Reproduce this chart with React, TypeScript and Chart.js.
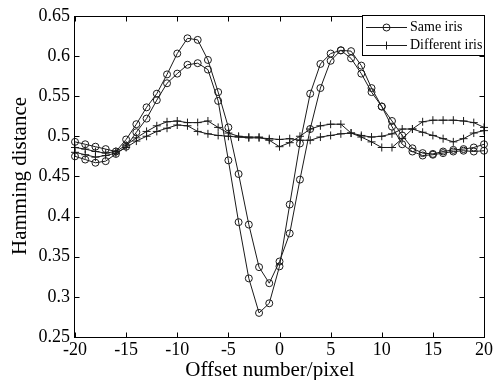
import React, { useEffect, useRef } from "react";
import { Chart, registerables } from "chart.js";

Chart.register(...registerables);

const offsets = [-20, -19, -18, -17, -16, -15, -14, -13, -12, -11, -10, -9, -8, -7, -6, -5, -4, -3, -2, -1, 0, 1, 2, 3, 4, 5, 6, 7, 8, 9, 10, 11, 12, 13, 14, 15, 16, 17, 18, 19, 20];

const sameIrisA = [0.493, 0.490, 0.487, 0.484, 0.481, 0.496, 0.515, 0.536, 0.553, 0.577, 0.603, 0.622, 0.620, 0.595, 0.555, 0.511, 0.453, 0.390, 0.337, 0.317, 0.344, 0.379, 0.446, 0.509, 0.560, 0.594, 0.607, 0.597, 0.578, 0.555, 0.537, 0.512, 0.490, 0.481, 0.476, 0.477, 0.479, 0.481, 0.482, 0.481, 0.482];
const sameIrisB = [0.475, 0.471, 0.467, 0.469, 0.478, 0.487, 0.505, 0.522, 0.545, 0.566, 0.578, 0.589, 0.591, 0.583, 0.544, 0.470, 0.393, 0.323, 0.280, 0.292, 0.338, 0.415, 0.491, 0.553, 0.590, 0.603, 0.607, 0.606, 0.588, 0.560, 0.537, 0.519, 0.501, 0.485, 0.479, 0.478, 0.481, 0.483, 0.484, 0.486, 0.490];
const diffIrisA = [0.486, 0.484, 0.481, 0.479, 0.481, 0.489, 0.498, 0.506, 0.513, 0.518, 0.519, 0.517, 0.517, 0.519, 0.511, 0.504, 0.500, 0.499, 0.499, 0.495, 0.487, 0.492, 0.500, 0.509, 0.513, 0.515, 0.515, 0.504, 0.499, 0.493, 0.486, 0.486, 0.497, 0.509, 0.518, 0.520, 0.520, 0.520, 0.519, 0.517, 0.511];
const diffIrisB = [0.480, 0.477, 0.474, 0.476, 0.479, 0.486, 0.494, 0.500, 0.506, 0.510, 0.514, 0.513, 0.506, 0.503, 0.501, 0.500, 0.499, 0.498, 0.498, 0.497, 0.496, 0.497, 0.495, 0.495, 0.499, 0.501, 0.503, 0.504, 0.501, 0.499, 0.500, 0.503, 0.509, 0.509, 0.505, 0.501, 0.497, 0.493, 0.497, 0.504, 0.507];

const xTicks = [-20, -15, -10, -5, 0, 5, 10, 15, 20];
const yTicks = [0.25, 0.3, 0.35, 0.4, 0.45, 0.5, 0.55, 0.6, 0.65];
const legendLabels = ["Same iris", "Different iris"];
const xTitle = "Offset number/pixel";
const yTitle = "Hamming distance";

const SERIF = "'Liberation Serif', 'Times New Roman', serif";
const LINE = "#1a1a1a";

const toPoints = (vals: number[]) => offsets.map((x, i) => ({ x, y: vals[i] }));

const framePlugin = {
  id: "matlabFrame",
  afterDatasetsDraw(chart: any) {
    const { ctx, chartArea, scales } = chart;
    const xs = scales.x;
    const ys = scales.y;
    const L = Math.round(chartArea.left) - 0.5;
    const R = Math.round(chartArea.right) + 0.5;
    const T = Math.round(chartArea.top) + 0.5;
    const B = Math.round(chartArea.bottom) + 0.5;
    ctx.save();
    ctx.strokeStyle = "#000";
    ctx.lineWidth = 1;
    ctx.strokeRect(L, T, R - L, B - T);
    const tl = 5;
    ctx.beginPath();
    xTicks.forEach((v) => {
      const px = Math.round(xs.getPixelForValue(v)) + 0.5;
      ctx.moveTo(px, B);
      ctx.lineTo(px, B - tl);
      ctx.moveTo(px, T);
      ctx.lineTo(px, T + tl);
    });
    yTicks.forEach((v) => {
      const py = Math.round(ys.getPixelForValue(v)) + 0.5;
      ctx.moveTo(L, py);
      ctx.lineTo(L + tl, py);
      ctx.moveTo(R, py);
      ctx.lineTo(R - tl, py);
    });
    ctx.stroke();

    // legend
    const bx = 362.5, by = 15.5, bw = R - 362.5, bh = 40;
    ctx.fillStyle = "#fff";
    ctx.fillRect(bx, by, bw, bh);
    ctx.strokeRect(bx, by, bw, bh);
    const rows = [27.5, 45.5];
    ctx.strokeStyle = LINE;
    rows.forEach((ry, i) => {
      ctx.beginPath();
      ctx.moveTo(366, ry);
      ctx.lineTo(407, ry);
      ctx.stroke();
      ctx.beginPath();
      if (i === 0) {
        ctx.arc(386.5, ry, 3.5, 0, Math.PI * 2);
      } else {
        ctx.moveTo(386.5, ry - 4);
        ctx.lineTo(386.5, ry + 4);
        ctx.moveTo(382.5, ry);
        ctx.lineTo(390.5, ry);
      }
      ctx.stroke();
      ctx.fillStyle = "#000";
      ctx.font = `14px ${SERIF}`;
      ctx.textBaseline = "middle";
      ctx.textAlign = "left";
      ctx.fillText(legendLabels[i], 410, ry);
    });

    // titles
    ctx.fillStyle = "#000";
    ctx.font = `21px ${SERIF}`;
    ctx.textAlign = "center";
    ctx.textBaseline = "middle";
    ctx.fillText(xTitle, 270, 370);
    ctx.translate(20, 176);
    ctx.rotate(-Math.PI / 2);
    ctx.fillText(yTitle, 0, 0);
    ctx.restore();
  },
};

export default function App() {
  const ref = useRef<HTMLCanvasElement | null>(null);
  useEffect(() => {
    if (!ref.current) return;
    const common = {
      borderColor: LINE,
      borderWidth: 1,
      pointBorderColor: LINE,
      pointBackgroundColor: "rgba(0,0,0,0)",
      pointBorderWidth: 1,
      tension: 0,
      fill: false,
      clip: false as any,
    };
    const chart = new Chart(ref.current, {
      type: "line",
      data: {
        datasets: [
          { ...common, label: legendLabels[0], data: toPoints(sameIrisA), pointStyle: "circle", pointRadius: 3.5 },
          { ...common, label: legendLabels[0] + " 2", data: toPoints(sameIrisB), pointStyle: "circle", pointRadius: 3.5 },
          { ...common, label: legendLabels[1], data: toPoints(diffIrisA), pointStyle: "cross", pointRadius: 4 },
          { ...common, label: legendLabels[1] + " 2", data: toPoints(diffIrisB), pointStyle: "cross", pointRadius: 4 },
        ],
      },
      options: {
        animation: false,
        responsive: false,
        devicePixelRatio: 1,
        layout: { padding: { left: 0, top: 15, right: 8, bottom: 0 } },
        plugins: { legend: { display: false }, tooltip: { enabled: false }, title: { display: false } },
        scales: {
          x: {
            type: "linear",
            min: -20,
            max: 20,
            afterBuildTicks: (s: any) => { s.ticks = xTicks.map((v) => ({ value: v })); },
            afterFit: (s: any) => { s.height = 43; },
            grid: { display: false, drawTicks: false },
            border: { display: false },
            ticks: {
              color: "#000",
              font: { family: SERIF, size: 18 },
              padding: 2,
              maxRotation: 0,
              autoSkip: false,
              callback: (v: any) => String(v),
            },
          },
          y: {
            type: "linear",
            min: 0.25,
            max: 0.65,
            afterBuildTicks: (s: any) => { s.ticks = yTicks.map((v) => ({ value: v })); },
            afterFit: (s: any) => { s.width = 75; },
            grid: { display: false, drawTicks: false },
            border: { display: false },
            ticks: {
              color: "#000",
              font: { family: SERIF, size: 18 },
              padding: 5,
              autoSkip: false,
              callback: (v: any) => String(Number(Number(v).toFixed(2))),
            },
          },
        },
      },
      plugins: [framePlugin],
    });
    return () => chart.destroy();
  }, []);
  return (
    <div style={{ position: "fixed", left: 0, top: 0, width: 495, height: 380, background: "#fff" }}>
      <canvas ref={ref} width={495} height={380} style={{ display: "block" }} />
    </div>
  );
}
